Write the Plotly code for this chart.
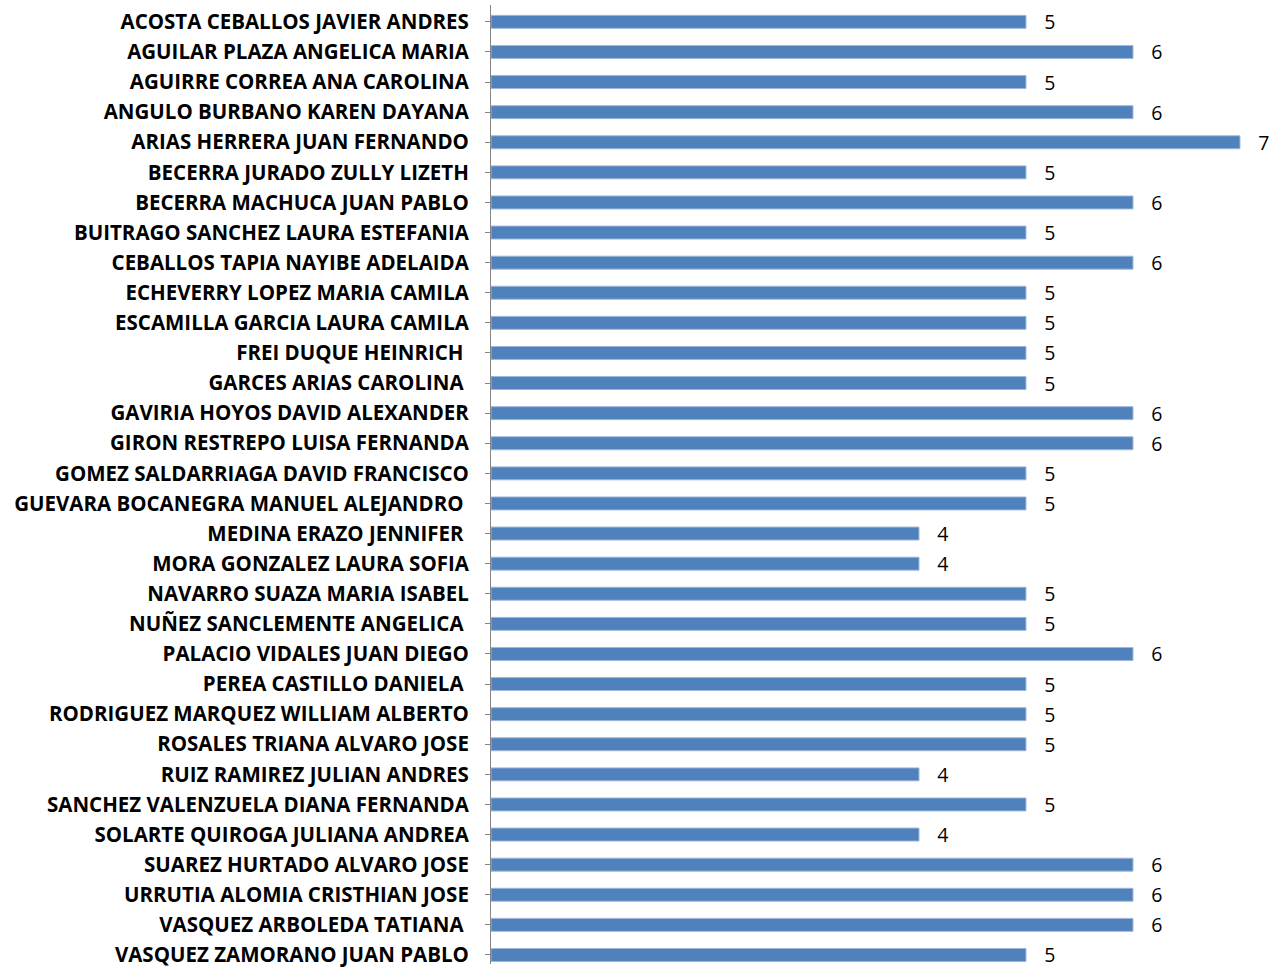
import plotly.graph_objects as go

names = [
    "ACOSTA CEBALLOS JAVIER ANDRES",
    "AGUILAR PLAZA ANGELICA MARIA",
    "AGUIRRE CORREA ANA CAROLINA",
    "ANGULO BURBANO KAREN DAYANA",
    "ARIAS HERRERA JUAN FERNANDO",
    "BECERRA JURADO ZULLY LIZETH",
    "BECERRA MACHUCA JUAN PABLO",
    "BUITRAGO SANCHEZ LAURA ESTEFANIA",
    "CEBALLOS TAPIA NAYIBE ADELAIDA",
    "ECHEVERRY LOPEZ MARIA CAMILA",
    "ESCAMILLA GARCIA LAURA CAMILA",
    "FREI DUQUE HEINRICH ",
    "GARCES ARIAS CAROLINA ",
    "GAVIRIA HOYOS DAVID ALEXANDER",
    "GIRON RESTREPO LUISA FERNANDA",
    "GOMEZ SALDARRIAGA DAVID FRANCISCO",
    "GUEVARA BOCANEGRA MANUEL ALEJANDRO ",
    "MEDINA ERAZO JENNIFER ",
    "MORA GONZALEZ LAURA SOFIA",
    "NAVARRO SUAZA MARIA ISABEL",
    "NUÑEZ SANCLEMENTE ANGELICA ",
    "PALACIO VIDALES JUAN DIEGO",
    "PEREA CASTILLO DANIELA ",
    "RODRIGUEZ MARQUEZ WILLIAM ALBERTO",
    "ROSALES TRIANA ALVARO JOSE",
    "RUIZ RAMIREZ JULIAN ANDRES",
    "SANCHEZ VALENZUELA DIANA FERNANDA",
    "SOLARTE QUIROGA JULIANA ANDREA",
    "SUAREZ HURTADO ALVARO JOSE",
    "URRUTIA ALOMIA CRISTHIAN JOSE",
    "VASQUEZ ARBOLEDA TATIANA ",
    "VASQUEZ ZAMORANO JUAN PABLO",
]
values = [5, 6, 5, 6, 7, 5, 6, 5, 6, 5, 5, 5, 5, 6, 6, 5, 5, 4, 4, 5, 5, 6, 5, 5, 5, 4, 5, 4, 6, 6, 6, 5]

# keep trailing space visible with a non-breaking space
ticklabels = [n.replace(" ", "\u00a0") if n.endswith(" ") else n for n in names]

fig = go.Figure(go.Bar(
    x=values,
    y=list(range(len(names))),
    orientation="h",
    marker=dict(color="#4F81BD", line=dict(color="#9DB6DA", width=1)),
    text=[f"\u00a0\u00a0\u00a0{v}" for v in values],
    textposition="outside",
    constraintext="none",
    textfont=dict(family="Open Sans", size=19.5, color="#000000"),
    cliponaxis=False,
    width=0.43,
))

n = len(names)
fig.update_layout(
    width=1274, height=968,
    margin=dict(l=491, r=0, t=5, b=0),
    plot_bgcolor="white", paper_bgcolor="white",
    showlegend=False,
    xaxis=dict(range=[0, 7.318], visible=False),
    yaxis=dict(
        range=[31.30, -0.56],
        tickmode="array",
        tickvals=list(range(n)),
        ticktext=ticklabels,
        tickson="boundaries",
        ticks="outside", ticklen=5, tickcolor="#868686",
        showline=True, linecolor="#868686", linewidth=1,
        showgrid=False, zeroline=False,
        tickfont=dict(family="Open Sans", size=20.5, color="#000000", weight="bold"),
        ticklabelstandoff=12,
        ticklabeloverflow="allow",
    ),
)
fig.write_html("out.html", config={"displayModeBar": False},
               post_script="document.body.style.margin='0';")
